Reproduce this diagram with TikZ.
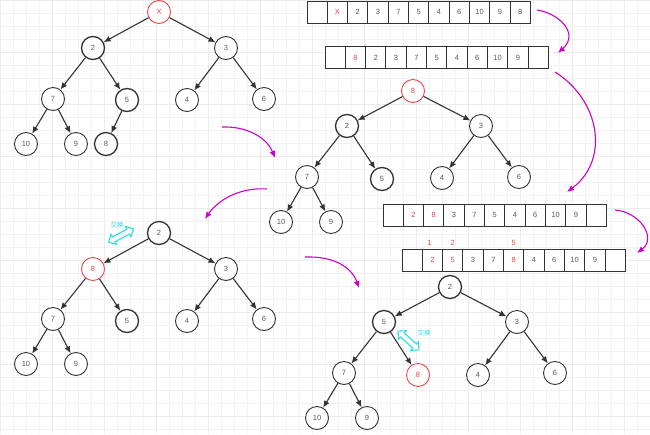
\documentclass[tikz,border=0pt]{standalone}
\usepackage{fontspec}
\setmainfont{Liberation Sans}
\newfontfamily\cjkfont{Noto Sans CJK SC}
\usetikzlibrary{arrows.meta,positioning,shapes.arrows}
\definecolor{heapred}{RGB}{232,72,72}
\definecolor{flowpink}{RGB}{204,0,204}
\definecolor{swapcyan}{RGB}{40,222,228}
\definecolor{inkgray}{RGB}{51,51,51}
\newcommand{\redval}[1]{\textcolor{heapred}{#1}}
\tikzset{
  arrow/.style={-{Latex[length=7pt,width=6pt]}, line width=1.1pt, draw=inkgray},
  flow/.style={-{Latex[length=7pt,width=6pt]}, line width=1.1pt, draw=flowpink},
  heap/.style={circle, draw=inkgray, line width=0.9pt, fill=white, minimum size=23pt, inner sep=0pt, font=\fontsize{7.5}{8}\selectfont, text=black!65},
  heapbold/.style={heap, line width=1.3pt},
  heaproot/.style={heap, draw=heapred, text=heapred},
  cell/.style={draw=inkgray, line width=0.9pt, fill=white, minimum width=20.3pt, minimum height=22pt, inner sep=0pt, font=\fontsize{7.5}{8}\selectfont, text=black!65},
  idx/.style={font=\fontsize{7.5}{8}\selectfont, text=heapred, inner sep=0pt},
  swap/.style={double arrow, draw=swapcyan, fill=white, line width=1.1pt, minimum height=28pt, inner sep=2.2pt, double arrow head extend=3pt},
  swaptext/.style={font=\cjkfont\fontsize{6.5}{7}\selectfont, text=swapcyan, inner sep=0pt},
  gridline/.style={draw=black!5, line width=0.4pt}
}

\begin{document}
\begin{tikzpicture}[x=1pt,y=-1pt]
  \useasboundingbox (0,0) rectangle (650,434);
  % Graph paper background.
  \draw[gridline, step=13pt] (0pt,-434pt) grid (650pt,0pt);
  \draw[gridline, draw=black!8, step=52pt] (0pt,-434pt) grid (650pt,0pt);

  % Tree A: root replaced by X.
  \node[heaproot] (ta-x) at (159,12) {X};
  \node[heapbold] (ta-2) at (93,48) {2};
  \node[heap] (ta-3) at (226,48) {3};
  \node[heap] (ta-7) at (53,99) {7};
  \node[heapbold] (ta-5) at (127,100) {5};
  \node[heap] (ta-4) at (187,100) {4};
  \node[heap] (ta-6) at (264,99) {6};
  \node[heap] (ta-10) at (26,144) {10};
  \node[heap] (ta-9) at (76,144) {9};
  \node[heapbold] (ta-8) at (106,144) {8};
  \foreach \a/\b in {x/2,x/3,2/7,2/5,3/4,3/6,7/10,7/9,5/8}
    \draw[arrow] (ta-\a) -- (ta-\b);

  % Tree B: last leaf moved to the root.
  \node[heaproot] (tb-8) at (413,91) {8};
  \node[heapbold] (tb-2) at (347,126) {2};
  \node[heap] (tb-3) at (481,126) {3};
  \node[heap] (tb-7) at (307,177) {7};
  \node[heapbold] (tb-5) at (382,179) {5};
  \node[heap] (tb-4) at (442,178) {4};
  \node[heap] (tb-6) at (519,177) {6};
  \node[heap] (tb-10) at (281,222) {10};
  \node[heap] (tb-9) at (331,222) {9};
  \foreach \a/\b in {8/2,8/3,2/7,2/5,3/4,3/6,7/10,7/9}
    \draw[arrow] (tb-\a) -- (tb-\b);

  % Tree C: first swap.
  \node[heapbold] (tc-2) at (159,233) {2};
  \node[heaproot] (tc-8) at (93,269) {8};
  \node[heap] (tc-3) at (226,269) {3};
  \node[heap] (tc-7) at (53,319) {7};
  \node[heapbold] (tc-5) at (127,321) {5};
  \node[heap] (tc-4) at (187,321) {4};
  \node[heap] (tc-6) at (264,319) {6};
  \node[heap] (tc-10) at (26,364) {10};
  \node[heap] (tc-9) at (76,364) {9};
  \foreach \a/\b in {2/8,2/3,8/7,8/5,3/4,3/6,7/10,7/9}
    \draw[arrow] (tc-\a) -- (tc-\b);
  \node[swap, rotate=28] (swapc) at (121,235.5) {};
  \node[swaptext] (swapc-l) at (117,225) {交换};

  % Tree D: second swap.
  \node[heapbold] (td-2) at (450,287) {2};
  \node[heapbold] (td-5) at (384,322) {5};
  \node[heap] (td-3) at (517,322) {3};
  \node[heap] (td-7) at (344,373) {7};
  \node[heaproot] (td-8) at (418,375) {8};
  \node[heap] (td-4) at (478,375) {4};
  \node[heap] (td-6) at (555,373) {6};
  \node[heap] (td-10) at (317,418) {10};
  \node[heap] (td-9) at (367,418) {9};
  \foreach \a/\b in {2/5,2/3,5/7,5/8,3/4,3/6,7/10,7/9}
    \draw[arrow] (td-\a) -- (td-\b);
  \node[swap, rotate=-42] (swapd) at (408.5,340.5) {};
  \node[swaptext] (swapd-l) at (424,333) {交换};

  % Array views of the heap.
  \foreach \v [count=\i from 0] in {{},\redval{X},2,3,7,5,4,6,10,9,8}
    \node[cell] (arra-\i) at (317.15+20.3*\i,12) {\v};
  \foreach \v [count=\i from 0] in {{},\redval{8},2,3,7,5,4,6,10,9,{}}
    \node[cell] (arrb-\i) at (335.15+20.3*\i,57.5) {\v};
  \foreach \v [count=\i from 0] in {{},\redval{2},\redval{8},3,7,5,4,6,10,9,{}}
    \node[cell] (arrc-\i) at (393.15+20.3*\i,215) {\v};
  \foreach \v [count=\i from 0] in {{},\redval{2},\redval{5},3,7,\redval{8},4,6,10,9,{}}
    \node[cell] (arrd-\i) at (412.15+20.3*\i,260) {\v};
  \node[idx, above=2.5pt of arrd-1, xshift=-3pt] (idx-1) {1};
  \node[idx, above=2.5pt of arrd-2] (idx-2) {2};
  \node[idx, above=2.5pt of arrd-5] (idx-5) {5};

  % Step arrows.
  \coordinate (fa-s) at (537,10);  \coordinate (fa-e) at (558,53);
  \coordinate (fb-s) at (555,72);  \coordinate (fb-e) at (567,192);
  \coordinate (fc-s) at (222,127); \coordinate (fc-e) at (275,158);
  \coordinate (fd-s) at (267,189); \coordinate (fd-e) at (205,219);
  \coordinate (fe-s) at (615,210); \coordinate (fe-e) at (637,253);
  \coordinate (ff-s) at (305,257); \coordinate (ff-e) at (359,288);
  \draw[flow] (fa-s) .. controls (558,13) and (580,33) .. (fa-e);
  \draw[flow] (fb-s) .. controls (600,100) and (610,160) .. (fb-e);
  \draw[flow] (fc-s) .. controls (250,126) and (268,140) .. (fc-e);
  \draw[flow] (fd-s) .. controls (240,187) and (218,200) .. (fd-e);
  \draw[flow] (fe-s) .. controls (640,212) and (657,238) .. (fe-e);
  \draw[flow] (ff-s) .. controls (335,256) and (352,268) .. (ff-e);
\end{tikzpicture}
\end{document}
